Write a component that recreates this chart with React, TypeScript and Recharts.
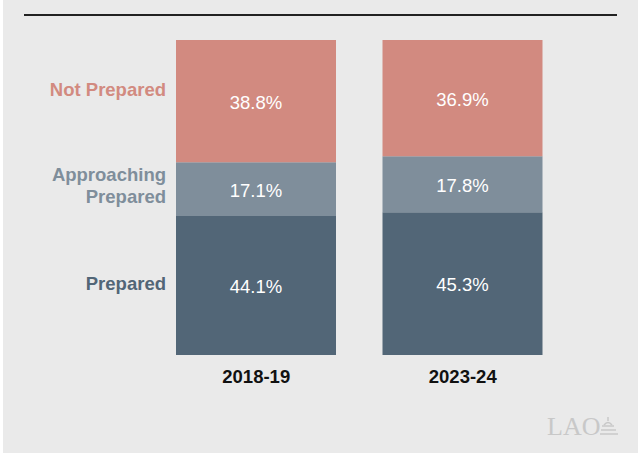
import React from "react";
import { BarChart, Bar, XAxis, YAxis, LabelList } from "recharts";

const categories = ["2018-19", "2023-24"];
const prepared = [44.1, 45.3];
const approaching = [17.1, 17.8];
const notPrepared = [38.8, 36.9];
const seriesNames = ["Prepared", "Approaching Prepared", "Not Prepared"];

const data = categories.map((c, i) => ({
  year: c,
  prepared: prepared[i],
  approaching: approaching[i],
  notPrepared: notPrepared[i],
}));

const COLORS = {
  prepared: "#526677",
  approaching: "#7f8e9b",
  notPrepared: "#d28a80",
};

const FONT = "'Liberation Sans', Arial, Helvetica, sans-serif";

const valueLabel = (props: any) => {
  const { x, y, width, height, value } = props;
  return (
    <text
      x={x + width / 2}
      y={y + height / 2}
      dy={7.5}
      textAnchor="middle"
      fill="#ffffff"
      fontSize={18.5}
      fontFamily={FONT}
    >
      {value.toFixed(1)}%
    </text>
  );
};

const makeSideLabel = (lines: string[], color: string, dyShift: number) => (props: any) => {
  const { x, y, height, index } = props;
  if (index !== 0) return null;
  const cy = y + height / 2 + dyShift;
  const lh = 22;
  const startY = cy - ((lines.length - 1) * lh) / 2 + 6;
  return (
    <text
      textAnchor="end"
      fill={color}
      fontSize={18.5}
      fontWeight="bold"
      fontFamily={FONT}
    >
      {lines.map((l, k) => (
        <tspan key={k} x={x - 10} y={startY + k * lh}>
          {l}
        </tspan>
      ))}
    </text>
  );
};

const XTick = (props: any) => {
  const { x, y, payload } = props;
  return (
    <text
      x={x}
      y={y}
      dy={20}
      textAnchor="middle"
      fill="#111"
      fontSize={18.5}
      fontWeight="bold"
      fontFamily={FONT}
    >
      {payload.value}
    </text>
  );
};

export default function App() {
  return (
    <div
      style={{
        position: "absolute",
        left: 0,
        top: 0,
        width: 638,
        height: 454,
        background: "#ffffff",
      }}
    >
      <div
        style={{
          position: "absolute",
          left: 3,
          top: 0,
          width: 635,
          height: 453,
          background: "#eaeaea",
        }}
      />
      <div
        style={{
          position: "absolute",
          left: 24,
          top: 14,
          width: 593,
          height: 2,
          background: "#222222",
        }}
      />
      <div style={{ position: "absolute", left: 0, top: 0 }}>
        <BarChart
          width={638}
          height={454}
          data={data}
          margin={{ top: 40, right: 72, bottom: 69, left: 153 }}
          barSize={160}
        >
          <XAxis
            dataKey="year"
            axisLine={false}
            tickLine={false}
            tick={<XTick />}
            height={30}
            interval={0}
          />
          <YAxis hide domain={[0, 100]} />
          <Bar dataKey="prepared" name={seriesNames[0]} stackId="a" fill={COLORS.prepared} isAnimationActive={false}>
            <LabelList dataKey="prepared" content={valueLabel} />
            <LabelList dataKey="prepared" content={makeSideLabel(["Prepared"], COLORS.prepared, -2)} />
          </Bar>
          <Bar dataKey="approaching" name={seriesNames[1]} stackId="a" fill={COLORS.approaching} isAnimationActive={false}>
            <LabelList dataKey="approaching" content={valueLabel} />
            <LabelList dataKey="approaching" content={makeSideLabel(["Approaching", "Prepared"], COLORS.approaching, -3)} />
          </Bar>
          <Bar dataKey="notPrepared" name={seriesNames[2]} stackId="a" fill={COLORS.notPrepared} isAnimationActive={false}>
            <LabelList dataKey="notPrepared" content={valueLabel} />
            <LabelList dataKey="notPrepared" content={makeSideLabel(["Not Prepared"], COLORS.notPrepared, -11)} />
          </Bar>
        </BarChart>
      </div>
      <svg
        style={{ position: "absolute", left: 540, top: 405 }}
        width={90}
        height={40}
      >
        <text
          x={7}
          y={30}
          fontFamily="'Liberation Serif', 'Times New Roman', serif"
          fontSize={26}
          fill="#c8c8c8"
        >
          LAO
        </text>
        <g stroke="#c8c8c8" strokeWidth={1.5} fill="none">
          <line x1={68} y1={12} x2={68} y2={16} />
          <path d="M64 20 Q68 15 72 20" />
          <line x1={62} y1={21} x2={74} y2={21} />
          <line x1={61} y1={25} x2={76} y2={25} />
          <line x1={60} y1={29} x2={78} y2={29} />
        </g>
      </svg>
    </div>
  );
}
